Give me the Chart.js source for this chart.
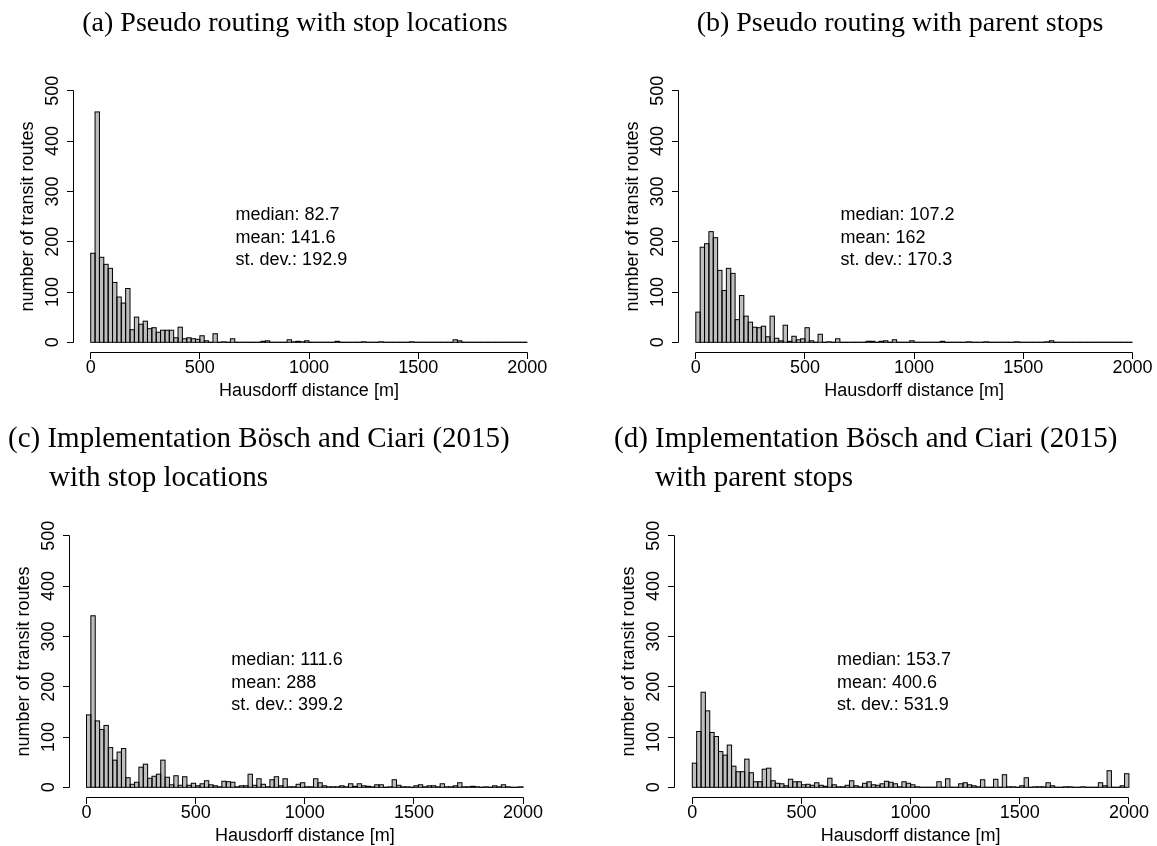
<!DOCTYPE html>
<html>
<head>
<meta charset="utf-8">
<script src="https://cdn.jsdelivr.net/npm/chart.js@4.4.1/dist/chart.umd.min.js"></script>
<style>
html, body { margin: 0; padding: 0; background: #fff; }
#wrap { position: relative; width: 1157px; height: 846px; overflow: hidden; background: #fff; }
#wrap canvas { position: absolute; left: 0; top: 0; }
.ttl { position: absolute; font-family: "Liberation Serif", "Times New Roman", serif; white-space: nowrap; color: #000; }
.ab { font-size: 28px; line-height: 28px; top: 8.3px; transform: translateX(-50%); }
.cd { font-size: 29px; line-height: 29px; }
</style>
</head>
<body>
<div id="wrap">
  <canvas id="ca" width="1157" height="846"></canvas>
  <canvas id="cb" width="1157" height="846"></canvas>
  <canvas id="cc" width="1157" height="846"></canvas>
  <canvas id="cd" width="1157" height="846"></canvas>
  <div class="ttl ab" style="left:295px;">(a) Pseudo routing with stop locations</div>
  <div class="ttl ab" style="left:900px;">(b) Pseudo routing with parent stops</div>
  <div class="ttl cd" style="left:8px; top:423.4px;">(c) Implementation Bösch and Ciari (2015)</div>
  <div class="ttl cd" style="left:49px; top:461.7px;">with stop locations</div>
  <div class="ttl cd" style="left:614px; top:423.4px;">(d) Implementation Bösch and Ciari (2015)</div>
  <div class="ttl cd" style="left:655px; top:461.7px;">with parent stops</div>
</div>
<script>
// ---- data (histogram bins of 20 m, 0..2000 m) ----
const binCenters = Array.from({ length: 100 }, (_, i) => 10 + 20 * i);
const xTicks = [0, 500, 1000, 1500, 2000];
const yTicks = [0, 100, 200, 300, 400, 500];
const xLabel = 'Hausdorff distance [m]';
const yLabel = 'number of transit routes';

const countsA = [
  177, 458, 169, 155, 147, 119, 90, 78, 107, 25,
  50, 36, 42, 27, 29, 20, 24, 24, 24, 9,
  30, 7, 9, 7, 6, 13, 3, 0, 17, 0,
  1, 0, 7, 0, 0, 0, 0, 0, 0, 2,
  3, 0, 0, 0, 0, 5, 1, 2, 1, 3,
  0, 0, 0, 0, 0, 0, 2, 0, 0, 0,
  0, 0, 1, 0, 0, 0, 1, 0, 0, 0,
  0, 0, 0, 1, 0, 0, 0, 0, 0, 0,
  0, 0, 0, 5, 3, 0, 0, 0, 0, 0,
  0, 0, 0, 0, 0, 0, 0, 0, 0, 0
];
const countsB = [
  60, 189, 196, 220, 208, 143, 103, 147, 137, 45,
  93, 52, 40, 30, 29, 32, 11, 52, 8, 3,
  34, 2, 12, 5, 7, 29, 3, 0, 16, 0,
  1, 0, 7, 0, 0, 0, 0, 0, 0, 2,
  2, 0, 2, 3, 0, 5, 0, 0, 0, 3,
  0, 0, 0, 0, 0, 0, 2, 0, 0, 0,
  0, 0, 1, 0, 0, 0, 1, 0, 0, 0,
  0, 0, 0, 1, 0, 0, 0, 0, 0, 0,
  1, 3, 0, 0, 0, 0, 0, 0, 0, 0,
  0, 0, 0, 0, 0, 0, 0, 0, 0, 0
];
const countsC = [
  144, 341, 132, 115, 123, 79, 54, 70, 77, 19,
  6, 10, 40, 46, 18, 22, 26, 54, 20, 5,
  23, 4, 21, 4, 8, 3, 7, 13, 5, 3,
  1, 12, 11, 10, 1, 3, 3, 26, 4, 17,
  6, 1, 15, 21, 3, 17, 1, 1, 6, 9,
  1, 1, 17, 9, 3, 1, 1, 1, 3, 1,
  7, 2, 7, 3, 2, 1, 5, 5, 0, 1,
  15, 4, 1, 1, 0, 3, 5, 1, 3, 3,
  1, 7, 1, 1, 3, 9, 1, 1, 2, 1,
  0, 1, 0, 3, 1, 5, 1, 0, 0, 1
];
const countsD = [
  48, 111, 189, 152, 109, 101, 71, 64, 84, 42,
  31, 31, 56, 29, 11, 11, 36, 38, 13, 8,
  7, 3, 16, 11, 11, 5, 6, 4, 9, 4,
  2, 18, 5, 1, 1, 4, 13, 3, 1, 8,
  11, 5, 4, 7, 12, 10, 7, 1, 11, 8,
  5, 1, 0, 0, 0, 0, 11, 0, 17, 0,
  0, 7, 9, 5, 3, 1, 15, 0, 0, 16,
  0, 25, 1, 1, 0, 3, 19, 0, 1, 1,
  1, 9, 3, 0, 0, 1, 1, 0, 0, 1,
  0, 0, 0, 9, 3, 33, 0, 0, 3, 27
];
const statsA = ['median: 82.7', 'mean: 141.6', 'st. dev.: 192.9'];
const statsB = ['median: 107.2', 'mean: 162', 'st. dev.: 170.3'];
const statsC = ['median: 111.6', 'mean: 288', 'st. dev.: 399.2'];
const statsD = ['median: 153.7', 'mean: 400.6', 'st. dev.: 531.9'];

// ---- R-style histogram decorations ----
function makeRPlugin(stats) {
  return {
    id: 'rHist',
    afterDatasetsDraw(chart) {
      const ctx = chart.ctx;
      ctx.save();
      ctx.strokeStyle = '#000';
      ctx.lineWidth = 1;
      chart.getDatasetMeta(0).data.forEach(el => {
        const p = el.getProps(['x', 'y', 'base', 'width'], true);
        const top = Math.min(p.y, p.base);
        const h = Math.abs(p.base - p.y);
        ctx.strokeRect(p.x - p.width / 2, top, p.width, h);
      });
      ctx.restore();
    },
    afterDraw(chart) {
      const ctx = chart.ctx, xs = chart.scales.x, ys = chart.scales.y;
      const px = v => xs.getPixelForValue(v);
      const py = v => ys.getPixelForValue(v);
      const crisp = v => Math.round(v - 0.5) + 0.5;
      // R draws the axes at the 4% expanded plot-region edge
      const axisX = crisp(px(-80));
      const axisY = crisp(py(-20));
      ctx.save();
      ctx.strokeStyle = '#000';
      ctx.fillStyle = '#000';
      ctx.lineWidth = 1;
      ctx.beginPath();
      ctx.moveTo(crisp(px(xTicks[0])), axisY);
      ctx.lineTo(crisp(px(xTicks[xTicks.length - 1])), axisY);
      xTicks.forEach(v => { const x = crisp(px(v)); ctx.moveTo(x, axisY); ctx.lineTo(x, axisY + 6.5); });
      ctx.moveTo(axisX, crisp(py(yTicks[0])));
      ctx.lineTo(axisX, crisp(py(yTicks[yTicks.length - 1])));
      yTicks.forEach(v => { const y = crisp(py(v)); ctx.moveTo(axisX, y); ctx.lineTo(axisX - 6.5, y); });
      ctx.stroke();

      ctx.font = '18px "Liberation Sans", Arial, Helvetica, sans-serif';
      ctx.textAlign = 'center';
      ctx.textBaseline = 'middle';
      xTicks.forEach(v => ctx.fillText(String(v), px(v), axisY + 15.5));
      ctx.fillText(xLabel, px(1000), axisY + 38.5);
      yTicks.forEach(v => {
        ctx.save();
        ctx.translate(axisX - 20, py(v));
        ctx.rotate(-Math.PI / 2);
        ctx.fillText(String(v), 0, 0);
        ctx.restore();
      });
      ctx.save();
      ctx.translate(axisX - 45.5, py(250));
      ctx.rotate(-Math.PI / 2);
      ctx.fillText(yLabel, 0, 0);
      ctx.restore();

      ctx.textAlign = 'left';
      stats.forEach((s, i) => ctx.fillText(s, px(663), py(253) + i * 22.7));
      ctx.restore();
    }
  };
}

const panels = [
  { id: 'ca', counts: countsA, stats: statsA, area: { left: 90.7, right: 527.3, top: 90.8, bottom: 342.3 } },
  { id: 'cb', counts: countsB, stats: statsB, area: { left: 695.8, right: 1132.4, top: 90.8, bottom: 342.3 } },
  { id: 'cc', counts: countsC, stats: statsC, area: { left: 86.5, right: 523.1, top: 535.8, bottom: 787.3 } },
  { id: 'cd', counts: countsD, stats: statsD, area: { left: 692.3, right: 1128.9, top: 535.8, bottom: 787.3 } }
];

panels.forEach(p => {
  new Chart(document.getElementById(p.id), {
    type: 'bar',
    data: {
      datasets: [{
        data: binCenters.map((c, i) => ({ x: c, y: p.counts[i] })),
        backgroundColor: '#bebebe',
        borderWidth: 0,
        inflateAmount: 0,
        barPercentage: 1,
        categoryPercentage: 1,
        clip: false
      }]
    },
    options: {
      responsive: false,
      animation: false,
      devicePixelRatio: 1,
      events: [],
      layout: { padding: { left: p.area.left, right: 1157 - p.area.right, top: p.area.top, bottom: 846 - p.area.bottom } },
      plugins: { legend: { display: false }, tooltip: { enabled: false }, title: { display: false } },
      scales: {
        x: { type: 'linear', min: xTicks[0], max: xTicks[xTicks.length - 1], offset: false, display: false, grid: { offset: false } },
        y: { type: 'linear', min: yTicks[0], max: yTicks[yTicks.length - 1], display: false }
      }
    },
    plugins: [makeRPlugin(p.stats)]
  });
});
</script>
</body>
</html>
